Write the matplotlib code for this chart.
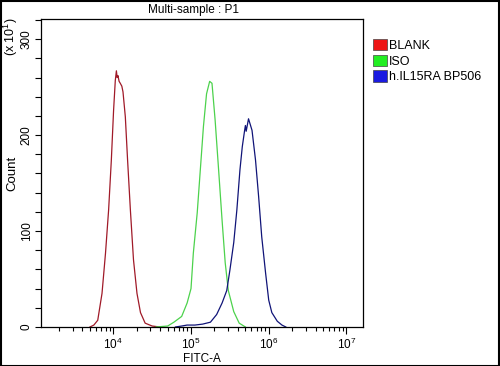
import matplotlib
matplotlib.use('Agg')
import matplotlib.pyplot as plt
from matplotlib.patches import Patch, Rectangle
from matplotlib.ticker import FixedLocator, LogLocator, NullFormatter
import numpy as np

plt.rcParams['font.family'] = ['Liberation Sans', 'DejaVu Sans']

# histogram outlines: log10(FITC-A) and count (x 10)
red_exp = [3.70, 3.75, 3.80, 3.855, 3.90, 3.94, 3.975, 4.004, 4.026, 4.04,
           4.05, 4.06, 4.075, 4.09, 4.11, 4.125, 4.155, 4.184, 4.22, 4.26,
           4.305, 4.35, 4.41, 4.5, 4.6]
red_cnt = [0, 2, 7, 35, 77, 122, 174, 226, 257, 267,
           260, 262, 256, 254, 251, 245, 219, 174, 122, 70,
           35, 15, 4, 1, 0]

green_exp = [4.55, 4.70, 4.78, 4.88, 4.95, 5.00, 5.03, 5.08, 5.12, 5.16,
             5.20, 5.24, 5.27, 5.31, 5.355, 5.40, 5.44, 5.48, 5.55, 5.62, 5.70]
green_cnt = [0, 1, 5, 11, 25, 40, 77, 119, 164, 209,
             243, 256, 254, 216, 164, 111, 67, 38, 16, 4, 0]

blue_exp = [4.80, 4.88, 4.95, 5.05, 5.15, 5.20, 5.25, 5.33, 5.40, 5.46,
            5.50, 5.55, 5.59, 5.63, 5.66, 5.69, 5.70, 5.71, 5.74, 5.785,
            5.83, 5.87, 5.91, 5.96, 6.00, 6.04, 6.11, 6.17, 6.22]
blue_cnt = [0, 1, 2, 2, 3, 4, 5, 13, 25, 38,
            59, 88, 122, 164, 188, 205, 210, 204, 217, 205,
            174, 136, 94, 56, 28, 15, 6, 2, 0]

labels = ['BLANK', 'ISO', 'h.IL15RA BP506']
line_colors = ['#a01a28', '#4cd24c', '#101478']
patch_colors = ['#ee1515', '#22ee22', '#1a1ae0']

fig = plt.figure(figsize=(5, 3.66), dpi=100)
ax = fig.add_axes([0.082, 0.1066, 0.644, 0.8415])

series = [(red_exp, red_cnt), (green_exp, green_cnt), (blue_exp, blue_cnt)]
for (e, c), col in zip(series, line_colors):
    ax.plot(np.power(10.0, e), c, color=col, lw=0.9)

ax.set_xscale('log')
ax.set_xlim(10**3.07, 10**7.213)
ax.set_ylim(0, 321)

ax.xaxis.set_major_locator(FixedLocator([1e4, 1e5, 1e6, 1e7]))
ax.xaxis.set_minor_locator(LogLocator(base=10, subs=np.arange(2, 10)))
ax.xaxis.set_minor_formatter(NullFormatter())
ax.set_xticklabels([r'$\mathregular{10^{%d}}$' % k for k in (4, 5, 6, 7)])
ax.set_yticks([0, 100, 200, 300])
ax.set_yticks(np.arange(0, 321, 20), minor=True)
ax.tick_params(axis='y', which='both', direction='out', length=4, width=0.8,
               labelsize=8.5, pad=2)
for t in ax.get_yticklabels():
    t.set_rotation(90)
    t.set_va('center')
ax.tick_params(axis='x', which='major', direction='out', length=5, width=0.8,
               labelsize=8.5, pad=2)
ax.tick_params(axis='x', which='minor', direction='out', length=3, width=0.8)

for s in ax.spines.values():
    s.set_linewidth(0.9)

ax.set_xlabel('FITC-A', fontsize=8.5, labelpad=1)
ax.set_ylabel('Count', fontsize=9.5, labelpad=2)
fig.text(0.386, 0.972, 'Multi-sample : P1', fontsize=8.5, ha='center', va='center')
fig.text(0.022, 0.90, r'(x $\mathregular{10^{1}}$)', rotation=90, fontsize=9,
         ha='center', va='center')

handles = [Patch(facecolor=pc, edgecolor='#444444', lw=0.5) for pc in patch_colors]
fig.legend(handles, labels, loc='upper left', bbox_to_anchor=(0.746, 0.893),
           frameon=False, fontsize=9, handlelength=1.1, handleheight=1.0,
           handletextpad=0.2, labelspacing=0.22, borderaxespad=0, borderpad=0)

fig.patches.append(Rectangle((0.001, 0.001), 0.997, 0.996, transform=fig.transFigure,
                             fill=False, edgecolor='black', lw=1.5))

fig.savefig('out.png', dpi=100)
